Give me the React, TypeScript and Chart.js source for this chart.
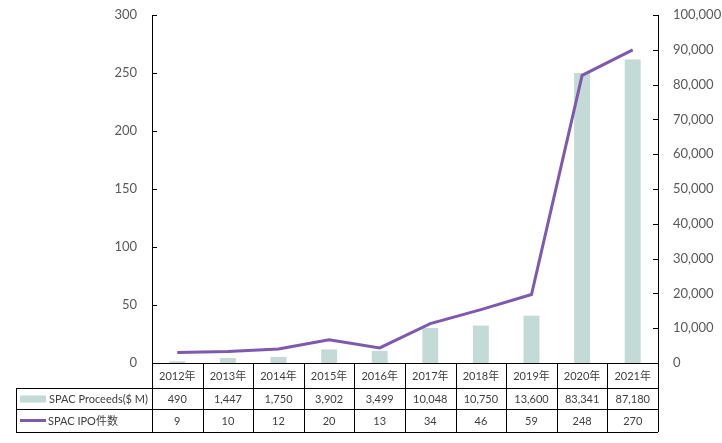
import React, { useEffect, useRef } from "react";
import { Chart, registerables } from "chart.js";

Chart.register(...registerables);

const years = ["2012年", "2013年", "2014年", "2015年", "2016年", "2017年", "2018年", "2019年", "2020年", "2021年"];
const proceeds = [490, 1447, 1750, 3902, 3499, 10048, 10750, 13600, 83341, 87180];
const ipoCounts = [9, 10, 12, 20, 13, 34, 46, 59, 248, 270];
const proceedsLabel = "SPAC Proceeds($ M)";
const countLabel = "SPAC IPO件数";

const BAR_COLOR = "#C3DAD6";
const LINE_COLOR = "#7F58B0";
const TEXT_COLOR = "#404040";
const FONT = "Lato, 'Noto Sans CJK SC', sans-serif";

const fmt = (v: number) => v.toLocaleString("en-US");

const tablePlugin = {
  id: "tablePlugin",
  afterDraw(chart: any) {
    const ctx = chart.ctx;
    const area = chart.chartArea;
    const x = chart.scales.x;
    const yL = chart.scales.y;
    const yR = chart.scales.y1;
    ctx.save();
    ctx.strokeStyle = "#000";
    ctx.lineWidth = 1;
    const px = (v: number) => Math.round(v) + 0.5;
    ctx.beginPath();
    ctx.moveTo(px(area.left), area.top);
    ctx.lineTo(px(area.left), area.bottom);
    ctx.moveTo(px(area.right), area.top);
    ctx.lineTo(px(area.right), area.bottom);
    yL.ticks.forEach((t: any) => {
      const yy = px(yL.getPixelForValue(t.value));
      ctx.moveTo(area.left, yy);
      ctx.lineTo(area.left + 5, yy);
    });
    yR.ticks.forEach((t: any) => {
      const yy = px(yR.getPixelForValue(t.value));
      ctx.moveTo(area.right - 5, yy);
      ctx.lineTo(area.right, yy);
    });
    ctx.stroke();

    const n = years.length;
    const colW = (area.right - area.left) / n;
    const top = area.bottom;
    const r1 = top + 25;
    const r2 = r1 + 21;
    const r3 = r2 + 23;
    const tableLeft = 16;
    ctx.beginPath();
    ctx.moveTo(area.left, px(top));
    ctx.lineTo(area.right, px(top));
    ctx.moveTo(tableLeft, px(r1));
    ctx.lineTo(area.right, px(r1));
    ctx.moveTo(tableLeft, px(r2));
    ctx.lineTo(area.right, px(r2));
    ctx.moveTo(tableLeft, px(r3));
    ctx.lineTo(area.right, px(r3));
    ctx.moveTo(px(tableLeft), r1);
    ctx.lineTo(px(tableLeft), r3);
    for (let i = 0; i <= n; i++) {
      const xx = px(area.left + i * colW);
      ctx.moveTo(xx, top);
      ctx.lineTo(xx, r3);
    }
    ctx.stroke();

    ctx.font = "11px " + FONT;
    ctx.fillStyle = TEXT_COLOR;
    ctx.textAlign = "center";
    ctx.textBaseline = "middle";
    for (let i = 0; i < n; i++) {
      const cx = x.getPixelForValue(i);
      ctx.fillText(years[i], cx, (top + r1) / 2 + 1);
      ctx.fillText(fmt(proceeds[i]), cx, (r1 + r2) / 2 + 1);
      ctx.fillText(String(ipoCounts[i]), cx, (r2 + r3) / 2 + 1);
    }
    ctx.fillStyle = BAR_COLOR;
    ctx.fillRect(20, (r1 + r2) / 2 - 3, 26, 7);
    ctx.strokeStyle = LINE_COLOR;
    ctx.lineWidth = 3;
    ctx.beginPath();
    ctx.moveTo(20, (r2 + r3) / 2);
    ctx.lineTo(46, (r2 + r3) / 2);
    ctx.stroke();
    ctx.fillStyle = TEXT_COLOR;
    ctx.textAlign = "left";
    ctx.fillText(proceedsLabel, 49, (r1 + r2) / 2 + 1);
    ctx.fillText(countLabel, 48, (r2 + r3) / 2 + 1);
    ctx.restore();
  },
};

export default function App() {
  const ref = useRef<HTMLCanvasElement | null>(null);
  useEffect(() => {
    if (!ref.current) return;
    const chart = new Chart(ref.current, {
      type: "bar",
      data: {
        labels: years,
        datasets: [
          {
            type: "line",
            label: countLabel,
            data: ipoCounts,
            yAxisID: "y",
            borderColor: LINE_COLOR,
            backgroundColor: LINE_COLOR,
            borderWidth: 3,
            pointRadius: 0,
            tension: 0,
            order: 0,
          },
          {
            type: "bar",
            label: proceedsLabel,
            data: proceeds,
            yAxisID: "y1",
            backgroundColor: BAR_COLOR,
            barPercentage: 0.315,
            categoryPercentage: 1,
            order: 1,
          },
        ],
      },
      options: {
        responsive: false,
        animation: false,
        layout: { padding: { top: 15, bottom: 80, left: 0, right: 0 } },
        plugins: { legend: { display: false }, tooltip: { enabled: false } },
        scales: {
          x: { display: false, offset: true },
          y: {
            position: "left",
            min: 0,
            max: 300,
            ticks: { stepSize: 50, color: "#595959", padding: 15, font: { size: 13, family: FONT } },
            grid: { display: false, drawTicks: false },
            border: { display: false },
            afterFit: (s: any) => { s.width = 152; s.paddingTop = 0; s.paddingBottom = 0; },
          },
          y1: {
            position: "right",
            min: 0,
            max: 100000,
            ticks: { stepSize: 10000, color: "#595959", padding: 15, font: { size: 13, family: FONT }, callback: (v: any) => fmt(Number(v)) },
            grid: { display: false, drawTicks: false },
            border: { display: false },
            afterFit: (s: any) => { s.width = 64; s.paddingTop = 0; s.paddingBottom = 0; },
          },
        },
      },
      plugins: [tablePlugin],
    });
    return () => chart.destroy();
  }, []);
  return (
    <div style={{ position: "fixed", left: 0, top: 0, width: 722, height: 443, background: "#fff" }}>
      <canvas ref={ref} width={722} height={443} style={{ display: "block" }} />
    </div>
  );
}
